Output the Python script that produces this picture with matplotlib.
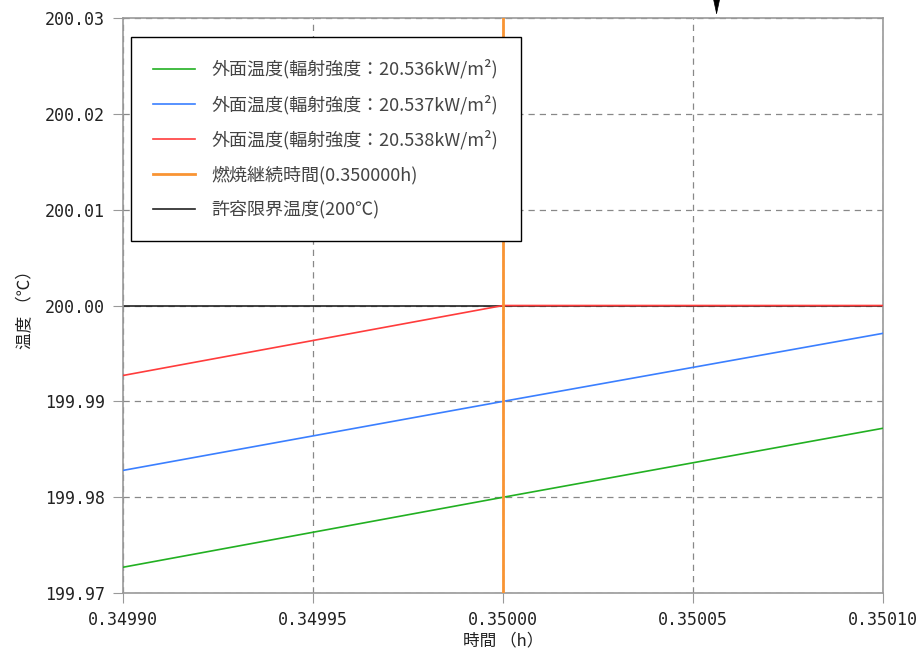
"""Surface temperature near the allowable limit, around end of burn time."""

import matplotlib

matplotlib.use("Agg")
import matplotlib.pyplot as plt
from matplotlib.ticker import FormatStrFormatter

plt.rcParams["font.family"] = ["Noto Sans CJK JP", "DejaVu Sans"]

# data
time_h = [0.34990, 0.35000, 0.35010]
temp_20536 = [199.9727, 199.9800, 199.9872]
temp_20537 = [199.9828, 199.9900, 199.9971]
temp_20538 = [199.9927, 200.0000, 200.0000]
burn_time = 0.350000
limit_temp = 200.0
arrow_x = 0.3500562

labels = [
    "外面温度(輻射強度：20.536kW/m²)",
    "外面温度(輻射強度：20.537kW/m²)",
    "外面温度(輻射強度：20.538kW/m²)",
    "燃焼継続時間(0.350000h)",
    "許容限界温度(200℃)",
]
x_ticks = [0.34990, 0.34995, 0.35000, 0.35005, 0.35010]
y_ticks = [199.97, 199.98, 199.99, 200.00, 200.01, 200.02, 200.03]

fig = plt.figure(figsize=(9.17, 6.62), dpi=100)
ax = fig.add_axes([0.134, 0.104, 0.829, 0.869])

ax.axhline(limit_temp, color="#222222", lw=1.2, label=labels[4], zorder=2)
ax.plot(time_h, temp_20536, color="#22b022", lw=1.2, label=labels[0], zorder=3)
ax.plot(time_h, temp_20537, color="#3a7fff", lw=1.2, label=labels[1], zorder=3)
ax.plot(time_h, temp_20538, color="#ff3c3c", lw=1.2, label=labels[2], zorder=3)
ax.axvline(burn_time, color="#f99433", lw=2.0, label=labels[3], zorder=4)

ax.annotate(
    "",
    xy=(arrow_x, 1.0),
    xycoords=("data", "axes fraction"),
    xytext=(arrow_x, 1.04),
    textcoords=("data", "axes fraction"),
    arrowprops=dict(arrowstyle="-|>,head_length=1.4,head_width=0.3", color="black", lw=0.5),
    annotation_clip=False,
)

ax.set_xlim(x_ticks[0], x_ticks[-1])
ax.set_ylim(y_ticks[0], y_ticks[-1])
ax.set_xticks(x_ticks)
ax.set_yticks(y_ticks)
ax.xaxis.set_major_formatter(FormatStrFormatter("%.5f"))
ax.yaxis.set_major_formatter(FormatStrFormatter("%.2f"))
for lab in ax.get_xticklabels() + ax.get_yticklabels():
    lab.set_family("DejaVu Sans Mono")
    lab.set_fontsize(12)
    lab.set_color("#222222")
ax.tick_params(direction="out", length=7, color="#999999", pad=6)
ax.grid(True, color="#888888", ls=(0, (5, 4)), lw=0.9)
for spine in ax.spines.values():
    spine.set_color("#999999")
    spine.set_linewidth(1.2)

ax.set_xlabel("時間 （h）", fontsize=12, color="#222222", labelpad=2)
ax.set_ylabel("温度 （℃）", fontsize=12, color="#222222", labelpad=8)

handles, hlabels = ax.get_legend_handles_labels()
order = [hlabels.index(lab) for lab in labels]
leg = ax.legend(
    [handles[i] for i in order],
    [hlabels[i] for i in order],
    loc="upper left",
    bbox_to_anchor=(0.0105, 0.967),
    borderaxespad=0,
    fontsize=13,
    fancybox=False,
    framealpha=1,
    edgecolor="black",
    borderpad=1.25,
    labelspacing=0.88,
    handlelength=2.33,
    handletextpad=0.89,
)
leg.get_frame().set_linewidth(1.0)
for t in leg.get_texts():
    t.set_color("#444444")

fig.savefig("out.png", dpi=100)
